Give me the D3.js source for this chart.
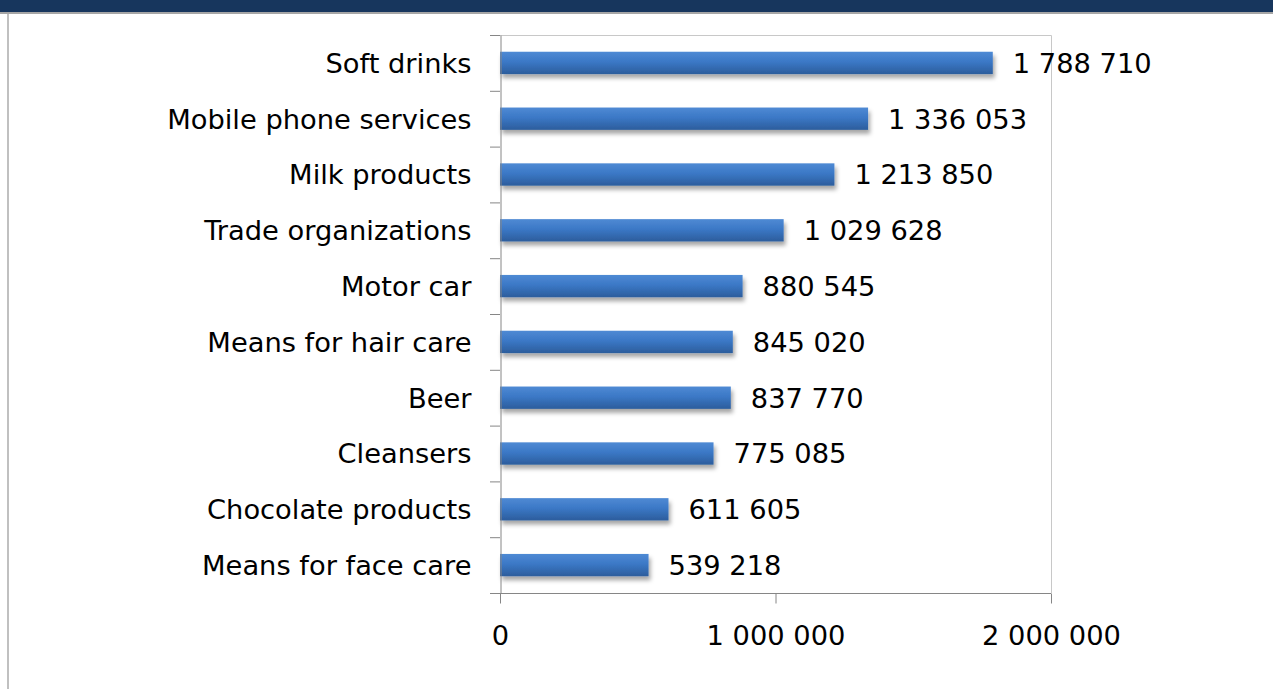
<!DOCTYPE html>
<html>
<head>
<meta charset="utf-8">
<script src="https://cdn.jsdelivr.net/npm/d3@7"></script>
<style>
  html, body { margin: 0; padding: 0; background: #fff; }
  svg { display: block; }
</style>
</head>
<body>
<svg id="chart" width="1273" height="689"></svg>
<script>
// Categories, top to bottom
const categories = [
  "Soft drinks",
  "Mobile phone services",
  "Milk products",
  "Trade organizations",
  "Motor car",
  "Means for hair care",
  "Beer",
  "Cleansers",
  "Chocolate products",
  "Means for face care"
];
// Values for each category
const values = [1788710, 1336053, 1213850, 1029628, 880545, 845020, 837770, 775085, 611605, 539218];
// X axis tick values
const xTicks = [0, 1000000, 2000000];

const W = 1273, H = 689;
const svg = d3.select("#chart");
const FONT = "'DejaVu Sans', sans-serif";
const FS = 27.3;

// Header band and frame
svg.append("rect").attr("x", 0).attr("y", 0).attr("width", W).attr("height", 12).attr("fill", "#17365d");
svg.append("rect").attr("x", 0).attr("y", 12).attr("width", W).attr("height", 2).attr("fill", "#a6a6a6");
svg.append("rect").attr("x", 7).attr("y", 14).attr("width", 2).attr("height", H - 14).attr("fill", "#c0c0c0");

const plot = { left: 500, right: 1051, top: 35, bottom: 593 };

const x = d3.scaleLinear().domain([0, 2000000]).range([plot.left, plot.right]);
const y = d3.scaleBand().domain(categories).range([plot.top, plot.bottom]).paddingInner(0.6).paddingOuter(0.3);
const yEdges = d3.scaleBand().domain(categories).range([plot.top, plot.bottom]);

const fmt = v => d3.format(",")(v).replace(/,/g, " ");

// Bar gradient and shadow
const defs = svg.append("defs");
const grad = defs.append("linearGradient").attr("id", "barGrad").attr("x1", 0).attr("y1", 0).attr("x2", 0).attr("y2", 1);
grad.append("stop").attr("offset", "0%").attr("stop-color", "#4f8ad4");
grad.append("stop").attr("offset", "45%").attr("stop-color", "#3b78c6");
grad.append("stop").attr("offset", "100%").attr("stop-color", "#2c5d9c");
const shadow = defs.append("filter").attr("id", "shadow").attr("x", "-5%").attr("y", "-30%").attr("width", "115%").attr("height", "190%");
shadow.append("feDropShadow").attr("dx", 2).attr("dy", 4).attr("stdDeviation", 2.2)
  .attr("flood-color", "#000").attr("flood-opacity", 0.35);

// Plot border (top and right)
svg.append("path")
  .attr("d", `M${plot.left},${plot.top + 0.5}H${plot.right + 0.5}V${plot.bottom}`)
  .attr("fill", "none").attr("stroke", "#c8c8c8").attr("stroke-width", 1);

// Bars
svg.append("g").selectAll("rect").data(categories).join("rect")
  .attr("x", x(0))
  .attr("y", d => y(d))
  .attr("width", (d, i) => x(values[i]) - x(0))
  .attr("height", y.bandwidth())
  .attr("fill", "url(#barGrad)")
  .attr("filter", "url(#shadow)");

// Value labels
svg.append("g").selectAll("text").data(categories).join("text")
  .attr("x", (d, i) => x(values[i]) + 20)
  .attr("y", d => y(d) + y.bandwidth() / 2)
  .attr("dy", "0.36em")
  .attr("font-family", FONT).attr("font-size", FS).attr("fill", "#000")
  .text((d, i) => fmt(values[i]));

// Y axis
const yAxis = d3.axisLeft(yEdges).tickSize(0).tickPadding(29);
const gy = svg.append("g").attr("transform", `translate(${plot.left + 0.5},0)`).call(yAxis);
gy.select(".domain").attr("stroke", "#868686");
gy.selectAll("text").attr("font-family", FONT).attr("font-size", FS).attr("fill", "#000").attr("dy", "0.36em");
// category boundary ticks
svg.append("g").selectAll("line").data(d3.range(categories.length + 1)).join("line")
  .attr("x1", plot.left - 10).attr("x2", plot.left)
  .attr("y1", i => plot.top + i * yEdges.step() + 0.5)
  .attr("y2", i => plot.top + i * yEdges.step() + 0.5)
  .attr("stroke", "#868686");

// X axis
const xAxis = d3.axisBottom(x).tickValues(xTicks).tickSize(10).tickPadding(22).tickFormat(fmt);
const gx = svg.append("g").attr("transform", `translate(0,${plot.bottom + 0.5})`).call(xAxis);
gx.select(".domain").attr("stroke", "#868686").attr("d", `M${plot.left - 10},0H${plot.right}`);
gx.selectAll(".tick line").attr("stroke", "#868686");
gx.selectAll("text").attr("font-family", FONT).attr("font-size", FS).attr("fill", "#000");
</script>
</body>
</html>
